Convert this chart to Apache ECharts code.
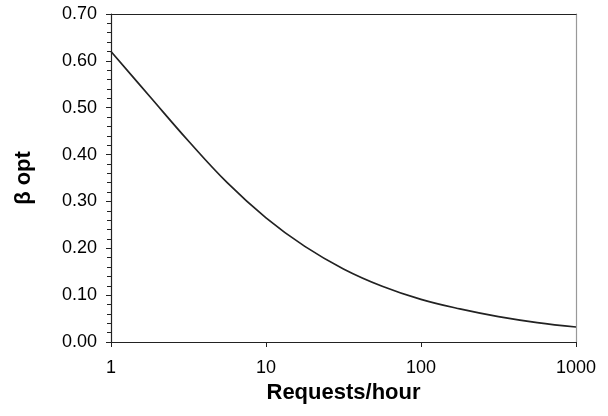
<!DOCTYPE html>
<html>
<head>
<meta charset="utf-8">
<script src="https://cdn.jsdelivr.net/npm/echarts@6/dist/echarts.min.js"></script>
<style>html,body{margin:0;padding:0;background:#fff;}#c{width:608px;height:416px;}</style>
</head>
<body>
<div id="c"></div>
<script>
// Requests/hour (x) and beta opt (y)
const requests = [1, 1.78, 3.16, 5.62, 10, 17.8, 31.6, 56.2, 100, 178, 316, 562, 1000];
const betaOpt  = [0.62, 0.524, 0.429, 0.340, 0.265, 0.204, 0.156, 0.119, 0.091, 0.0706, 0.0542, 0.0415, 0.032];
const xTitle = 'Requests/hour';
const yTitle = 'β opt';

const chart = echarts.init(document.getElementById('c'));
const font = 'Liberation Sans, Arial, sans-serif';
chart.setOption({
  animation: false,
  backgroundColor: '#fff',
  grid: { left: 111, right: 32, top: 14, bottom: 74 },
  xAxis: [{
    type: 'log', logBase: 10, min: 1, max: 1000,
    name: xTitle, nameLocation: 'middle', nameGap: 40,
    nameTextStyle: { fontFamily: font, fontSize: 22, fontWeight: 'bold', color: '#000' },
    axisLine: { show: true, lineStyle: { color: '#222', width: 1.2 } },
    axisTick: { show: true, inside: false, length: 5, lineStyle: { color: '#222' } },
    minorTick: { show: false },
    splitLine: { show: false },
    axisLabel: { fontFamily: font, fontSize: 18, color: '#000', margin: 17, formatter: v => String(Math.round(v)) }
  }, {
    type: 'value', position: 'top', min: 0, max: 1,
    axisLine: { show: true, onZero: false, lineStyle: { color: '#222', width: 1.2 } },
    axisTick: { show: false }, axisLabel: { show: false }, splitLine: { show: false }
  }],
  yAxis: [{
    type: 'value', min: 0, max: 0.7, interval: 0.1,
    name: yTitle, nameLocation: 'middle', nameGap: 76, nameRotate: 90,
    nameTextStyle: { fontFamily: font, fontSize: 22, fontWeight: 'bold', color: '#000' },
    axisLine: { show: true, lineStyle: { color: '#222', width: 1.2 } },
    axisTick: { show: true, inside: false, length: 5, lineStyle: { color: '#222' } },
    minorTick: { show: true, splitNumber: 5, length: 4, lineStyle: { color: '#222' } },
    splitLine: { show: false },
    axisLabel: { fontFamily: font, fontSize: 18, color: '#000', margin: 14, formatter: v => v.toFixed(2) }
  }, {
    type: 'value', position: 'right', min: 0, max: 1,
    axisLine: { show: true, onZero: false, lineStyle: { color: '#999', width: 1.2 } },
    axisTick: { show: false }, axisLabel: { show: false }, splitLine: { show: false }
  }],
  series: [{
    type: 'line', xAxisIndex: 0, yAxisIndex: 0,
    data: requests.map((x, i) => [x, betaOpt[i]]),
    smooth: 0.4, showSymbol: false,
    lineStyle: { color: '#222', width: 1.7 }
  }]
});
</script>
</body>
</html>
